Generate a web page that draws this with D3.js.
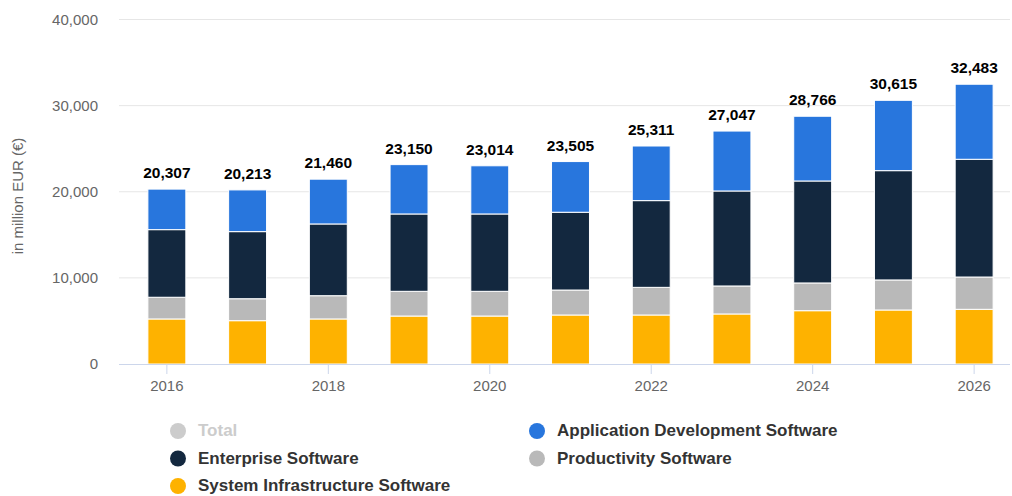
<!DOCTYPE html>
<html>
<head>
<meta charset="utf-8">
<script src="https://cdnjs.cloudflare.com/ajax/libs/d3/7.8.5/d3.min.js"></script>
<style>
  body { margin: 0; background: #fff; }
  svg { font-family: "Liberation Sans", Arial, sans-serif; }
</style>
</head>
<body>
<svg></svg>
<script>
var width = 1012;
var height = 496;

var years = [2016, 2017, 2018, 2019, 2020, 2021, 2022, 2023, 2024, 2025, 2026];
var systemInfra = [5230, 5030, 5230, 5570, 5570, 5690, 5690, 5810, 6190, 6270, 6350];
var productivity = [2520, 2550, 2700, 2870, 2870, 2900, 3210, 3250, 3220, 3490, 3750];
var enterprise = [7850, 7790, 8330, 8980, 8980, 9030, 10070, 11030, 11840, 12690, 13670];
var appDev = [4707, 4843, 5200, 5730, 5594, 5885, 6341, 6957, 7516, 8165, 8713];
var totals = [20307, 20213, 21460, 23150, 23014, 23505, 25311, 27047, 28766, 30615, 32483];
var yTicks = [0, 10000, 20000, 30000, 40000];
var xTickYears = [2016, 2018, 2020, 2022, 2024, 2026];

var seriesNames = ["System Infrastructure Software", "Productivity Software", "Enterprise Software", "Application Development Software"];
var seriesColors = ["#feb200", "#b9b9b9", "#13283f", "#2876dd"];

var rows = years.map((y, i) => ({
  year: y,
  "System Infrastructure Software": systemInfra[i],
  "Productivity Software": productivity[i],
  "Enterprise Software": enterprise[i],
  "Application Development Software": appDev[i],
  total: totals[i]
}));

var svg = d3.select("svg")
    .attr("width", width)
    .attr("height", height);

var x = d3.scaleBand()
    .domain(years)
    .range([126.5, 1014.5])
    .paddingInner(0.53)
    .paddingOuter(0.265);

var y = d3.scaleLinear()
    .domain([0, 40000])
    .range([364, 19.5]);

// gridlines
svg.append("g")
  .selectAll("line")
  .data(yTicks.slice(1))
  .enter()
  .append("line")
    .attr("x1", 119)
    .attr("x2", 1010)
    .attr("y1", d => y(d))
    .attr("y2", d => y(d))
    .attr("stroke", "#e6e6e6")
    .attr("stroke-width", 1);

// y tick labels
svg.append("g")
  .selectAll("text")
  .data(yTicks)
  .enter()
  .append("text")
    .attr("x", 98)
    .attr("y", d => y(d) + 5)
    .style("text-anchor", "end")
    .style("font-size", "15px")
    .style("fill", "#666")
    .text(d => d3.format(",")(d));

// y axis title
svg.append("text")
    .attr("transform", "translate(23, 196) rotate(-90)")
    .style("text-anchor", "middle")
    .style("font-size", "15px")
    .style("fill", "#666")
    .text("in million EUR (€)");

// stacked bars
var stack = d3.stack().keys(seriesNames)(rows);

svg.append("g")
  .selectAll("g")
  .data(stack)
  .enter()
  .append("g")
    .attr("fill", (d, i) => seriesColors[i])
  .selectAll("rect")
  .data(d => d)
  .enter()
  .append("rect")
    .attr("x", d => x(d.data.year))
    .attr("width", x.bandwidth())
    .attr("y", d => y(d[1]))
    .attr("height", d => y(d[0]) - y(d[1]))
    .attr("stroke", "#fff")
    .attr("stroke-width", 1);

// x axis line
svg.append("line")
    .attr("x1", 119)
    .attr("x2", 1010)
    .attr("y1", 364.5)
    .attr("y2", 364.5)
    .attr("stroke", "#ccd6eb")
    .attr("stroke-width", 1);

var xTicks = svg.append("g")
  .selectAll("g")
  .data(xTickYears)
  .enter()
  .append("g")
    .attr("transform", d => `translate(${x(d) + x.bandwidth() / 2}, 0)`);

xTicks.append("line")
    .attr("y1", 365)
    .attr("y2", 374)
    .attr("stroke", "#ccd6eb");

xTicks.append("text")
    .attr("y", 391)
    .style("text-anchor", "middle")
    .style("font-size", "15px")
    .style("fill", "#666")
    .text(d => d);

// total labels
svg.append("g")
  .selectAll("text")
  .data(rows)
  .enter()
  .append("text")
    .attr("x", d => x(d.year) + x.bandwidth() / 2)
    .attr("y", d => y(d.total) - 11)
    .style("text-anchor", "middle")
    .style("font-size", "15.5px")
    .style("font-weight", "bold")
    .style("fill", "#000")
    .text(d => d3.format(",")(d.total));

// legend
var legendItems = [
  { name: "Total", color: "#cccccc", text: "#cccccc", col: 0, row: 0 },
  { name: "Application Development Software", color: seriesColors[3], text: "#333", col: 1, row: 0 },
  { name: "Enterprise Software", color: seriesColors[2], text: "#333", col: 0, row: 1 },
  { name: "Productivity Software", color: seriesColors[1], text: "#333", col: 1, row: 1 },
  { name: "System Infrastructure Software", color: seriesColors[0], text: "#333", col: 0, row: 2 }
];

var legend = svg.append("g")
  .selectAll("g")
  .data(legendItems)
  .enter()
  .append("g")
    .attr("transform", d => `translate(${d.col ? 537 : 178}, ${431 + d.row * 27.5})`);

legend.append("circle")
    .attr("r", 8)
    .attr("fill", d => d.color);

legend.append("text")
    .attr("x", 20)
    .attr("y", 5)
    .style("font-size", "17px")
    .style("font-weight", "bold")
    .style("fill", d => d.text)
    .text(d => d.name);
</script>
</body>
</html>
